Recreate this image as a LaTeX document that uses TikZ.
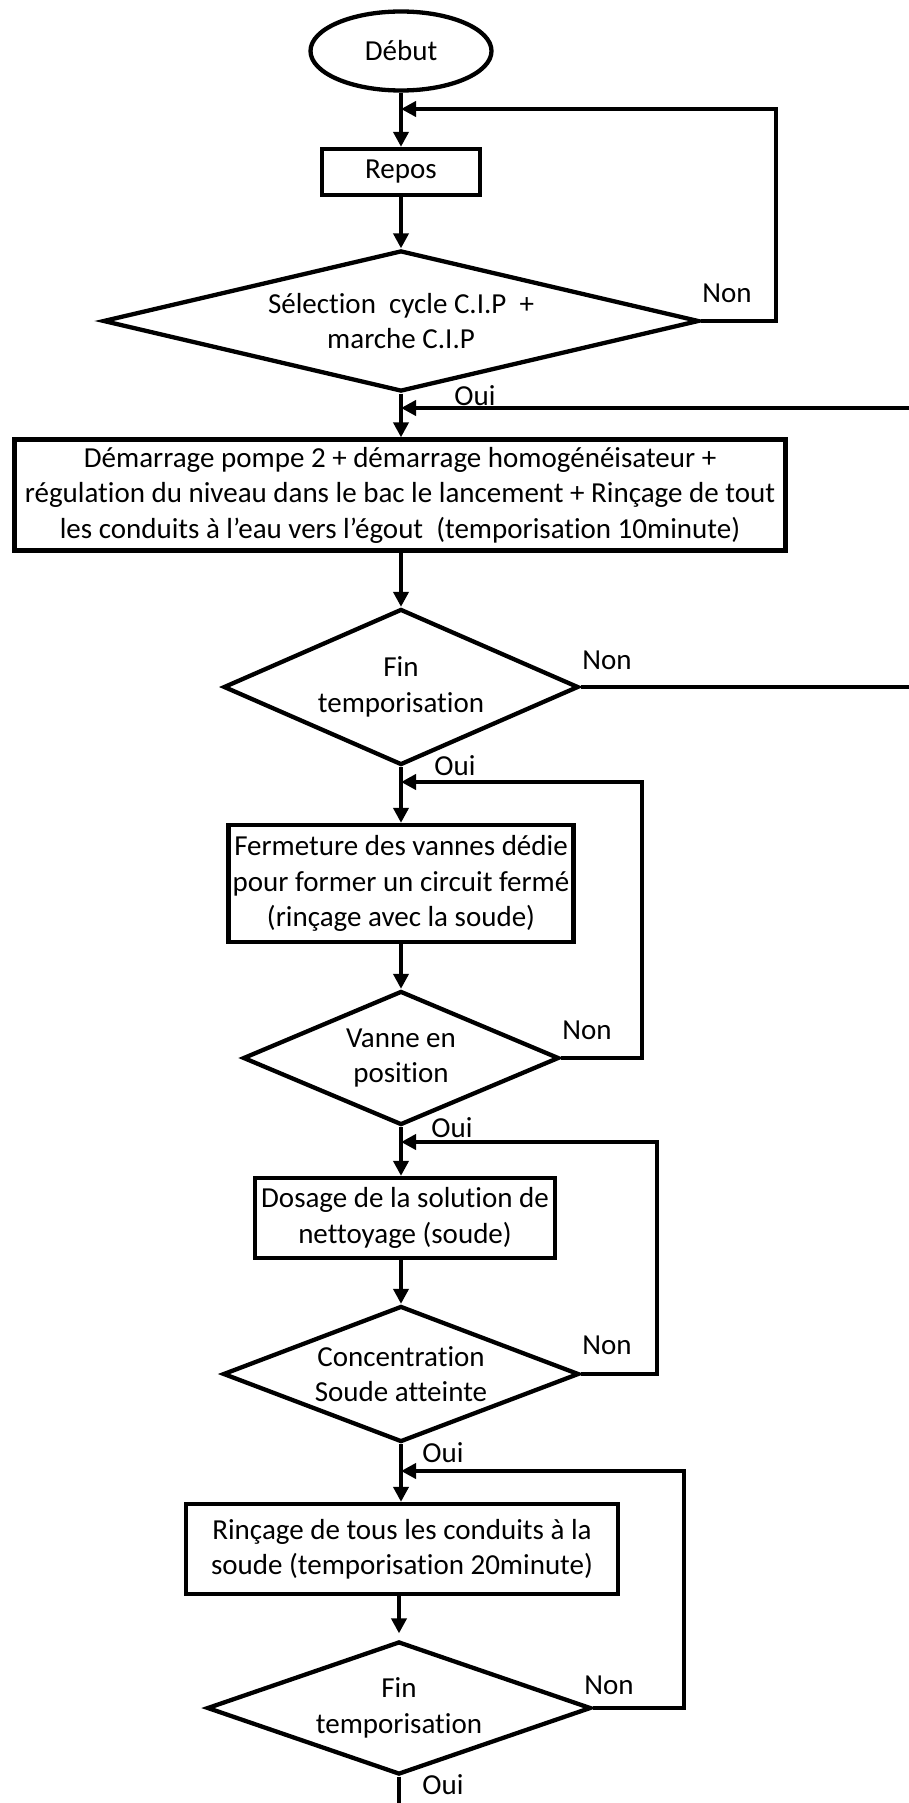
\documentclass[tikz,border=0pt]{standalone}
\usepackage{fontspec}
\setmainfont{Carlito}[Ligatures=NoCommon]
\usetikzlibrary{arrows.meta,shapes.geometric}
\begin{document}
\begin{tikzpicture}[x=1pt,y=-1pt,
  every node/.style={font=\fontsize{29}{35.5}\selectfont},
  proc/.style={draw,line width=4.3pt,rectangle,align=center,inner sep=0pt},
  dec/.style={draw,line width=4.3pt,diamond,align=center,inner sep=0pt},
  term/.style={draw,line width=4.3pt,ellipse,inner sep=0pt},
  flow/.style={line width=4.3pt,-{Triangle[length=15pt,width=15pt]}},
  plain/.style={line width=4.3pt},
  lbl/.style={inner sep=0pt}]
\useasboundingbox (0,0) rectangle (908,1803);

\node[term, minimum width=181pt, minimum height=79pt] (start) at (401,51) {Début};
\node[proc, minimum width=158pt, minimum height=46pt] (repos) at (401,172) {Repos};
\node[dec, aspect=4.14, minimum width=596pt, minimum height=141pt] (d1) at (401,321) {Sélection\ \ cycle C.I.P\ \ +\\marche C.I.P};
\node[proc, minimum width=771pt, minimum height=111pt] (b2) at (400,495) {Démarrage pompe 2 + démarrage homogénéisateur +\\régulation du niveau dans le bac le lancement + Rinçage de tout\\les conduits à l’eau vers l’égout\ \ (temporisation 10minute)};
\node[dec, aspect=2.24, minimum width=355pt, minimum height=156pt] (d2) at (401,687) {Fin\\temporisation};
\node[proc, minimum width=345pt, minimum height=117pt] (b3) at (401,883.5) {Fermeture des vannes dédie\\pour former un circuit fermé\\(rinçage avec la soude)};
\node[dec, aspect=2.32, minimum width=316pt, minimum height=134pt] (d3) at (401,1058) {Vanne en\\position};
\node[proc, minimum width=300pt, minimum height=80pt] (b4) at (405,1218) {Dosage de la solution de\\nettoyage (soude)};
\node[dec, aspect=2.57, minimum width=356pt, minimum height=136pt] (d4) at (401,1374) {Concentration\\Soude atteinte};
\node[proc, minimum width=432pt, minimum height=90pt] (b5) at (402,1549) {Rinçage de tous les conduits à la\\soude (temporisation 20minute)};
\node[dec, aspect=2.83, minimum width=384pt, minimum height=133pt] (d5) at (399,1708) {Fin\\temporisation};

\coordinate (j1) at (401,109);
\coordinate (j2) at (401,408);
\coordinate (j3) at (401,782);
\coordinate (j4) at (401,1142);
\coordinate (j5) at (401,1471);
\coordinate (e2) at (910,408);
\coordinate (e2b) at (910,687);
\coordinate (fin) at (399,1805);

\draw[flow] (start) -- (repos);
\draw[flow] (repos) -- (d1);
\draw[flow] (d1.south) -- (d1.south |- b2.north);
\draw[flow] (d2.north |- b2.south) -- (d2.north);
\draw[flow] (d2) -- (b3);
\draw[flow] (b3) -- (d3);
\draw[flow] (d3.south) -- (d3.south |- b4.north);
\draw[flow] (d4.north |- b4.south) -- (d4.north);
\draw[flow] (d4.south) -- (d4.south |- b5.north);
\draw[flow, shorten >=6pt] (d5.north |- b5.south) -- (d5.north);
\draw[plain] (d5.south) -- (fin);

\draw[flow] (d1.east) -- (776,321) |- (j1);
\draw[flow] (e2) -- (j2);
\draw[plain] (d2.east) -- (e2b);
\draw[flow] (d3.east) -- (642,1058) |- (j3);
\draw[flow] (d4.east) -- (657,1374) |- (j4);
\draw[flow] (d5.east) -- (684,1708) |- (j5);

\node[lbl] (n1) at (727,293) {Non};
\node[lbl] (o1) at (475,396) {Oui};
\node[lbl] (n2) at (607,660) {Non};
\node[lbl] (o2) at (455,766) {Oui};
\node[lbl] (n3) at (587,1030) {Non};
\node[lbl] (o3) at (452,1128) {Oui};
\node[lbl] (n4) at (607,1345) {Non};
\node[lbl] (o4) at (443,1453) {Oui};
\node[lbl] (n5) at (609,1685) {Non};
\node[lbl] (o5) at (443,1785) {Oui};
\end{tikzpicture}
\end{document}
